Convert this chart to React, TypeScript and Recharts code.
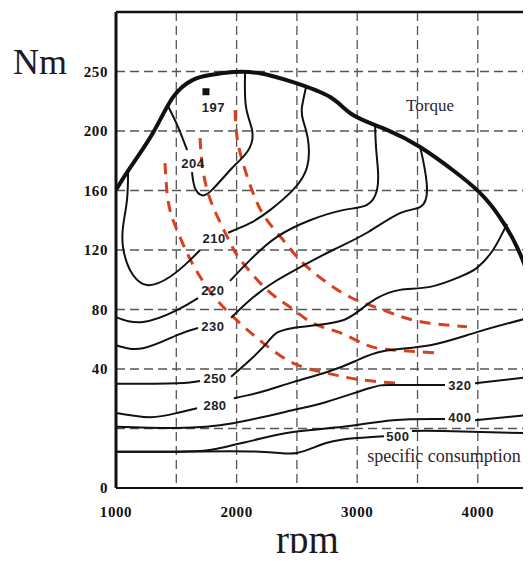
import React from "react";
import {
  ComposedChart,
  Line,
  Scatter,
  XAxis,
  YAxis,
  CartesianGrid,
  ReferenceLine,
  Label,
} from "recharts";

type P = [number, number | null];

// axes
const rpmTicks = [1000, 1500, 2000, 2500, 3000, 3500, 4000];
const rpmTickLabels = ["1000", "", "2000", "", "3000", "", "4000"];
const torqueTicks = [0, 1, 2, 3, 4, 5, 6, 7];
const torqueTickLabels = ["0", "", "40", "80", "120", "160", "200", "250"];

// full load torque curve (rpm, torque grid level)
const fullLoadTorque: P[] = [
  [1000, 5.01], [1116, 5.38], [1307, 5.97], [1473, 6.57], [1638, 6.86], [1779, 6.94],
  [1970, 6.99], [2194, 6.97], [2468, 6.82], [2775, 6.57], [2965, 6.27], [3247, 6.02],
  [3521, 5.73], [3794, 5.34], [4018, 4.96], [4183, 4.55], [4325, 4.05], [4441, 3.45], [4520, 2.9],
];

// specific consumption iso-lines (null = gap for the label)
const iso204: P[] = [
  [1431, 6.42], [1514, 6.07], [1589, 5.68], [1638, null], [1630, 5.31], [1655, 5.04],
  [1713, 4.92], [1796, 5.01], [1945, 5.34], [2028, 5.51], [2111, 5.73], [2128, 6.02],
  [2078, 6.40], [2070, 6.97],
];
const iso210: P[] = [
  [1100, 5.31], [1091, 4.84], [1058, 4.39], [1058, 4.05], [1091, 3.78], [1141, 3.58],
  [1257, 3.41], [1448, 3.55], [1614, 3.83], [1697, 4.0], [1813, null], [1929, 4.29],
  [2111, 4.45], [2277, 4.67], [2468, 5.01], [2584, 5.39], [2592, 5.85], [2551, 6.18],
  [2542, 6.4], [2576, 6.74],
];
const iso220: P[] = [
  [1000, 2.87], [1224, 2.79], [1506, 2.99], [1680, 3.19], [1804, null], [1945, 3.48],
  [2111, 3.83], [2335, 4.22], [2609, 4.5], [2882, 4.67], [3081, 4.76], [3164, 5.01],
  [3172, 5.34], [3156, 5.73], [3148, 6.12],
];
const iso230: P[] = [
  [1000, 2.4], [1224, 2.35], [1506, 2.57], [1680, 2.69], [1804, null], [1954, 2.86],
  [2111, 3.16], [2302, 3.45], [2526, 3.71], [2799, 4.0], [3081, 4.29], [3355, 4.62],
  [3521, 4.72], [3579, 5.01], [3546, 5.51], [3521, 5.73],
];
const iso250: P[] = [
  [1000, 1.75], [1506, 1.76], [1697, 1.8], [1821, null], [1954, 1.87], [2111, 2.15],
  [2252, 2.44], [2335, 2.61], [2468, 2.69], [2667, 2.74], [2882, 2.82], [3023, 2.99],
  [3164, 3.19], [3355, 3.33], [3604, 3.38], [3852, 3.55], [3993, 3.7], [4126, 4.0], [4242, 4.44],
];
const iso280: P[] = [
  [1000, 1.26], [1282, 1.19], [1506, 1.26], [1672, 1.34], [1821, null], [1978, 1.51],
  [2194, 1.61], [2468, 1.78], [2750, 1.95], [2982, 2.13], [3214, 2.3], [3604, 2.4],
  [3993, 2.62], [4441, 2.87],
];
const iso320: P[] = [
  [1000, 1.03], [1506, 1.01], [1970, 1.09], [2468, 1.31], [2750, 1.45], [3106, 1.68],
  [3297, 1.73], [3728, 1.73], [3852, null], [3977, 1.76], [4441, 1.87],
];
const iso400: P[] = [
  [1000, 0.61], [1506, 0.61], [1779, 0.64], [2053, 0.76], [2468, 0.94], [2882, 1.03],
  [3297, 1.14], [3728, 1.16], [3852, null], [3977, 1.14], [4441, 1.23],
];
const iso500: P[] = [
  [1000, 0.61], [1506, 0.61], [2194, 0.61], [2501, 0.59], [2750, 0.76], [2998, 0.84],
  [3222, 0.87], [3338, null], [3454, 0.96], [3711, 0.96], [4441, 0.92],
];

// red dashed lines
const redLine1: P[] = [
  [1406, 5.46], [1431, 4.84], [1489, 4.42], [1589, 3.95], [1697, 3.55], [1837, 3.16],
  [2028, 2.77], [2219, 2.44], [2468, 2.1], [2750, 1.93], [3023, 1.82], [3355, 1.76],
];
const redLine2: P[] = [
  [1697, 5.88], [1713, 5.46], [1763, 4.96], [1862, 4.47], [1970, 4.03], [2053, 3.78],
  [2252, 3.33], [2443, 3.04], [2634, 2.77], [2857, 2.61], [3081, 2.4], [3297, 2.32], [3645, 2.27],
];
const redLine3: P[] = [
  [1987, 6.35], [2003, 5.9], [2053, 5.46], [2136, 4.96], [2236, 4.55], [2385, 4.17],
  [2526, 3.83], [2716, 3.5], [2940, 3.21], [3164, 3.03], [3380, 2.87], [3604, 2.77], [3910, 2.71],
];

// minimum point and labels
const minimumPoint: P[] = [[1746, 6.66]];
const isoLabelText = ["197", "204", "210", "220", "230", "250", "280", "320", "400", "500"];
const isoLabelRpm = [1808, 1638, 1813, 1804, 1804, 1821, 1821, 3852, 3852, 3338];
const isoLabelLevel = [6.4, 5.46, 4.2, 3.33, 2.72, 1.85, 1.39, 1.73, 1.18, 0.87];
const noteText = ["Torque", "specific consumption"];
const noteRpm = [3604, 3720];
const noteLevel = [6.44, 0.55];

const toRows = (arr: P[]) => arr.map(([x, y]) => ({ x, y }));

const isoLabels = isoLabelText.map((t, i) => ({ x: isoLabelRpm[i], y: isoLabelLevel[i], text: t }));
const notes = noteText.map((t, i) => ({ x: noteRpm[i], y: noteLevel[i], text: t }));

const isoLines = [iso204, iso210, iso220, iso230, iso250, iso280, iso320, iso400, iso500];
const redLines = [redLine1, redLine2, redLine3];

const fmtX = (v: number) => rpmTickLabels[rpmTicks.indexOf(v)] ?? "";
const fmtY = (v: number) => torqueTickLabels[torqueTicks.indexOf(v)] ?? "";

const IsoLabelShape = (props: any) => {
  const { cx, cy, payload } = props;
  return (
    <text
      x={cx}
      y={cy}
      dy="0.36em"
      textAnchor="middle"
      fontFamily="'Liberation Sans', Arial, sans-serif"
      fontWeight="bold"
      fontSize={13}
      letterSpacing={0.5}
      fill="#222"
    >
      {payload.text}
    </text>
  );
};

const NoteShape = (props: any) => {
  const { cx, cy, payload } = props;
  return (
    <text
      x={cx}
      y={cy}
      dy="0.35em"
      textAnchor="middle"
      fontFamily="'Liberation Serif', 'Times New Roman', serif"
      fontSize={payload.text === "Torque" ? 17 : 18}
      fill="#2a2630"
    >
      {payload.text}
    </text>
  );
};

const SquareShape = (props: any) => {
  const { cx, cy } = props;
  return <rect x={cx - 3.5} y={cy - 3.5} width={7} height={7} fill="#111" />;
};

const NmLabel = (props: any) => {
  const vb = props.viewBox || { x: 0, y: 4 };
  return (
    <text x={vb.x + 5} y={vb.y + 62} fontFamily="'Liberation Serif', serif" fontSize={36} fill="#1d1a24">
      Nm
    </text>
  );
};

const RpmLabel = (props: any) => {
  const vb = props.viewBox || { x: 108, y: 480 };
  return (
    <text
      x={vb.x + 191.5}
      y={vb.y + 65}
      textAnchor="middle"
      fontFamily="'Liberation Serif', serif"
      fontSize={39}
      fill="#1d1a24"
    >
      rpm
    </text>
  );
};

const tickStyle = {
  fill: "#111",
  fontSize: 15,
  fontWeight: "bold",
  fontFamily: "'Liberation Serif', 'Times New Roman', serif",
  letterSpacing: 0.6,
};

export default function App() {
  return (
    <div style={{ width: 523, height: 545 }}>
      <ComposedChart width={523} height={553} margin={{ top: 4, right: 0, bottom: 0, left: 0 }}>
        <CartesianGrid stroke="#555" strokeDasharray="9 5" strokeWidth={1.3} />
        <XAxis
          type="number"
          dataKey="x"
          domain={[1000, 4441]}
          allowDataOverflow
          ticks={rpmTicks}
          interval={0}
          tickFormatter={fmtX}
          height={73}
          tickSize={0}
          tickMargin={18}
          tickLine={false}
          axisLine={{ stroke: "#111", strokeWidth: 2 }}
          tick={tickStyle}
        >
          <Label content={RpmLabel} />
        </XAxis>
        <YAxis
          type="number"
          dataKey="y"
          domain={[0, 8]}
          allowDataOverflow
          ticks={torqueTicks}
          interval={0}
          tickFormatter={fmtY}
          width={108}
          tickSize={0}
          tickMargin={8}
          tickLine={false}
          axisLine={{ stroke: "#111", strokeWidth: 3 }}
          tick={tickStyle}
        >
          <Label content={NmLabel} />
        </YAxis>
        <ReferenceLine y={8} stroke="#111" strokeWidth={2.5} />
        {redLines.map((d, i) => (
          <Line
            key={"r" + i}
            data={toRows(d)}
            dataKey="y"
            type="natural"
            stroke="#d8401f"
            strokeWidth={3}
            strokeDasharray="11 8"
            dot={false}
            activeDot={false}
            isAnimationActive={false}
          />
        ))}
        {isoLines.map((d, i) => (
          <Line
            key={"c" + i}
            data={toRows(d)}
            dataKey="y"
            type="natural"
            stroke="#111"
            strokeWidth={2}
            dot={false}
            activeDot={false}
            connectNulls={false}
            isAnimationActive={false}
          />
        ))}
        <Line
          data={toRows(fullLoadTorque)}
          dataKey="y"
          type="natural"
          stroke="#111"
          strokeWidth={4}
          dot={false}
          activeDot={false}
          isAnimationActive={false}
        />
        <Scatter data={toRows(minimumPoint)} shape={SquareShape} isAnimationActive={false} />
        <Scatter data={isoLabels} shape={IsoLabelShape} isAnimationActive={false} />
        <Scatter data={notes} shape={NoteShape} isAnimationActive={false} />
      </ComposedChart>
    </div>
  );
}
